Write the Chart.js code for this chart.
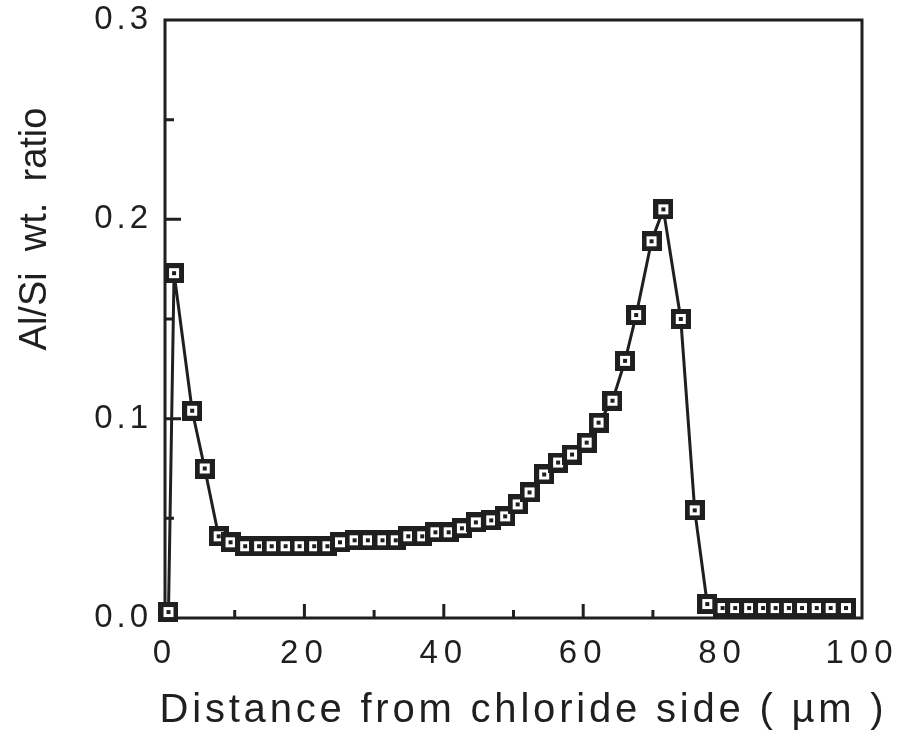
<!DOCTYPE html>
<html>
<head>
<meta charset="utf-8">
<title>Al/Si wt. ratio vs distance from chloride side</title>
<script src="https://cdn.jsdelivr.net/npm/chart.js@4.4.1/dist/chart.umd.min.js"></script>
<style>
  html, body { margin: 0; padding: 0; background: #fff; }
  #wrap { width: 900px; height: 756px; }
</style>
</head>
<body>
<div id="wrap"><canvas id="profile" width="900" height="756"></canvas></div>
<script>
// Data
const distance = [0.5, 1.3, 3.9, 5.7, 7.7, 9.4, 11.5, 13.5, 15.3, 17.3, 19.3, 21.4, 23.3, 25.1, 27.2, 29.1,
  31.2, 33.1, 34.9, 36.9, 38.8, 40.7, 42.6, 44.6, 46.8, 48.8, 50.6, 52.3, 54.4, 56.4, 58.4, 60.5,
  62.2, 64.2, 66.0, 67.6, 69.8, 71.5, 74.0, 76.0, 77.8, 80.0, 81.8, 83.8, 85.8, 87.6, 89.5, 91.4,
  93.5, 95.5, 97.7];
const alSiRatio = [0.003, 0.173, 0.104, 0.075, 0.041, 0.038, 0.036, 0.036, 0.036, 0.036, 0.036, 0.036, 0.036, 0.038, 0.039, 0.039,
  0.039, 0.039, 0.041, 0.041, 0.043, 0.043, 0.045, 0.048, 0.049, 0.051, 0.057, 0.063, 0.072, 0.078, 0.082, 0.088,
  0.098, 0.109, 0.129, 0.152, 0.189, 0.205, 0.150, 0.054, 0.007, 0.005, 0.005, 0.005, 0.005, 0.005, 0.005, 0.005,
  0.005, 0.005, 0.005];
const xTickLabels = [0, 20, 40, 60, 80, 100];
const yTickLabels = [0.0, 0.1, 0.2, 0.3];
const xInnerTicks = [10, 20, 30, 40, 50, 60, 70, 80, 90];
const yInnerTicks = [0.05, 0.1, 0.15, 0.2, 0.25];

const ink = '#1f1f1f';
const font = "'Liberation Sans', Arial, Helvetica, sans-serif";

// letter spacing + small nudges for the scale texts
const textTracking = {
  x: { ticks: '6px', title: '3.8px', shift: [10, 0] },
  y: { ticks: '4px', title: '0px', shift: [0, -90] }
};

// square marker with a dot in the middle
function makeMarker() {
  const c = document.createElement('canvas');
  c.width = 20; c.height = 20;
  const g = c.getContext('2d');
  g.fillStyle = ink; g.fillRect(0, 0, 20, 20);
  g.fillStyle = '#fff'; g.fillRect(5, 5, 10, 10);
  g.fillStyle = ink; g.fillRect(8, 8, 4, 4);
  return c;
}

const tracking = {
  id: 'tracking',
  beforeDraw(chart) {
    Object.values(chart.scales).forEach(s => {
      const cfg = textTracking[s.id];
      if (!cfg || s._tracked) return;
      const drawLabels = s.drawLabels.bind(s);
      const drawTitle = s.drawTitle.bind(s);
      s.drawLabels = area => { s.ctx.save(); s.ctx.letterSpacing = cfg.ticks; drawLabels(area); s.ctx.restore(); };
      s.drawTitle = () => {
        // widen the box for a moment so the title is not squeezed to the axis length
        const { left, right, top, bottom } = s;
        if (s.isHorizontal()) { s.left -= 100; s.right += 100; } else { s.top -= 100; s.bottom += 100; }
        s.ctx.save();
        s.ctx.letterSpacing = cfg.title;
        s.ctx.translate(cfg.shift[0], cfg.shift[1]);
        drawTitle();
        s.ctx.restore();
        Object.assign(s, { left, right, top, bottom });
      };
      s._tracked = true;
    });
  }
};

// box frame and inward tick marks
const frame = {
  id: 'frame',
  beforeDatasetsDraw(chart) {
    const { ctx, chartArea: a, scales: { x, y } } = chart;
    ctx.save();
    ctx.strokeStyle = ink;
    ctx.lineWidth = 3;
    ctx.strokeRect(a.left, a.top, a.right - a.left, a.bottom - a.top);
    ctx.beginPath();
    xInnerTicks.forEach(v => {
      const px = x.getPixelForValue(v);
      const len = v % 20 === 0 ? 14 : 8;
      ctx.moveTo(px, a.bottom);
      ctx.lineTo(px, a.bottom - len);
    });
    yInnerTicks.forEach(v => {
      const py = y.getPixelForValue(v);
      const len = Math.round(v * 100) % 10 === 0 ? 16 : 9;
      ctx.moveTo(a.left, py);
      ctx.lineTo(a.left + len, py);
    });
    ctx.stroke();
    ctx.restore();
  }
};

new Chart(document.getElementById('profile'), {
  type: 'line',
  data: {
    datasets: [{
      data: distance.map((d, i) => ({ x: d, y: alSiRatio[i] })),
      borderColor: ink,
      borderWidth: 3,
      pointStyle: makeMarker(),
      pointRadius: 10,
      tension: 0,
      clip: false
    }]
  },
  options: {
    responsive: false,
    animation: false,
    devicePixelRatio: 1,
    layout: { padding: { top: 20, right: 38, left: 0, bottom: 0 } },
    plugins: { legend: { display: false }, tooltip: { enabled: false } },
    scales: {
      x: {
        type: 'linear',
        min: 0,
        max: 100,
        afterBuildTicks: s => { s.ticks = xTickLabels.map(v => ({ value: v })); },
        afterFit: s => { s.height = 138; s.paddingLeft = 0; s.paddingRight = 0; },
        grid: { display: false, drawTicks: false },
        border: { display: false },
        ticks: { color: ink, padding: 16, maxRotation: 0, font: { family: font, size: 33 } },
        title: {
          display: true,
          text: 'Distance from chloride side ( \u00b5m )',
          color: ink,
          padding: { top: 0, bottom: 21 },
          font: { family: font, size: 40 }
        }
      },
      y: {
        min: 0,
        max: 0.3,
        afterBuildTicks: s => { s.ticks = yTickLabels.map(v => ({ value: v })); },
        afterFit: s => { s.width = 165; s.paddingTop = 0; s.paddingBottom = 0; },
        grid: { display: false, drawTicks: false },
        border: { display: false },
        ticks: { color: ink, padding: 13, font: { family: font, size: 33 }, callback: v => v.toFixed(1) },
        title: {
          display: true,
          text: 'Al/Si  wt.  ratio',
          color: ink,
          padding: { top: 13, bottom: 0 },
          font: { family: font, size: 38 }
        }
      }
    }
  },
  plugins: [tracking, frame]
});
</script>
</body>
</html>
